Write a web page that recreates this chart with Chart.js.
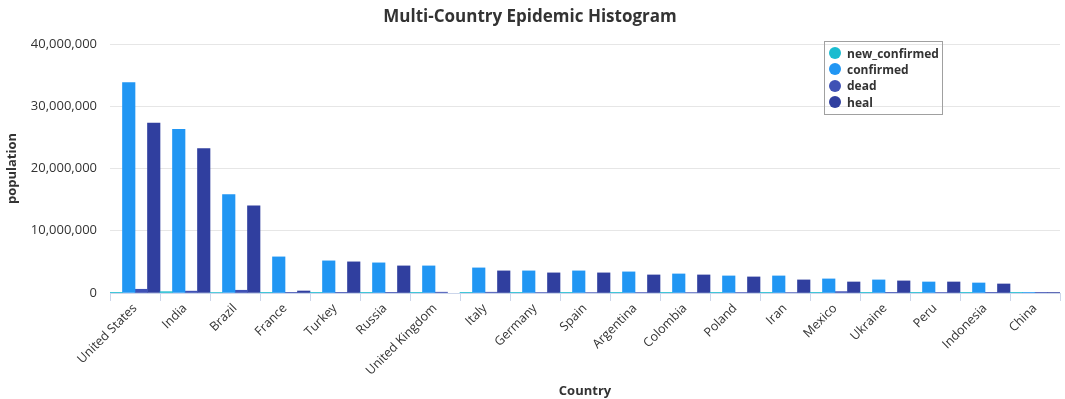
<!DOCTYPE html>
<html>
<head>
<meta charset="utf-8">
<script src="https://cdn.jsdelivr.net/npm/chart.js@4/dist/chart.umd.min.js"></script>
<style>
  html, body { margin: 0; padding: 0; background: #ffffff; }
  #wrap { position: relative; width: 1065px; height: 399px; }
  #legend {
    position: absolute; left: 824px; top: 41px; width: 113px;
    border: 1.5px solid #a0a0a0; padding: 3px 0 4px 4px; box-sizing: content-box;
    font-family: "Open Sans", sans-serif; font-weight: bold; font-size: 12px; color: #333;
  }
  #legend ul { list-style: none; margin: 0; padding: 0; }
  #legend li { display: flex; align-items: center; height: 16.3px; }
  #legend .dot { width: 12px; height: 12px; border-radius: 50%; margin-right: 6px; flex: none; }
</style>
</head>
<body>
<div id="wrap">
  <canvas id="chart" width="1065" height="399"></canvas>
  <div id="legend"></div>
</div>
<script>
// Countries on the category axis
const countries = ["United States", "India", "Brazil", "France", "Turkey", "Russia",
  "United Kingdom", "Italy", "Germany", "Spain", "Argentina", "Colombia", "Poland",
  "Iran", "Mexico", "Ukraine", "Peru", "Indonesia", "China"];

// Case counts per country
const newConfirmed = [22000, 210000, 66000, 19000, 9000, 8500, 2600, 7000, 4000, 5000,
  28000, 26000, 800, 11000, 2500, 2000, 4000, 6000, 20];
const confirmed = [33800000, 26300000, 15800000, 5800000, 5160000, 4840000, 4350000,
  4030000, 3550000, 3550000, 3390000, 3060000, 2740000, 2740000, 2260000, 2100000,
  1770000, 1610000, 103000];
const dead = [600000, 300000, 440000, 108000, 46000, 112000, 128000, 125000, 88000,
  80000, 73000, 81000, 73000, 79000, 220000, 49000, 68000, 49000, 4800];
const heal = [27300000, 23200000, 14000000, 320000, 5000000, 4350000, null, 3550000,
  3230000, 3230000, 2900000, 2900000, 2580000, 2100000, 1770000, 1940000, 1770000,
  1450000, 97000];

const seriesNames = ["new_confirmed", "confirmed", "dead", "heal"];
const seriesColors = ["#1ABCD0", "#2196F3", "#3F51B5", "#303F9F"];
const seriesData = [newConfirmed, confirmed, dead, heal];

const FONT = '"Open Sans", sans-serif';
const TEXT = '#333333';

const chart = new Chart(document.getElementById('chart'), {
  type: 'bar',
  data: {
    labels: countries,
    datasets: seriesNames.map((name, i) => ({
      label: name,
      data: seriesData[i],
      backgroundColor: seriesColors[i],
      borderWidth: 0,
      categoryPercentage: 1,
      barPercentage: 1
    }))
  },
  options: {
    responsive: false,
    animation: false,
    layout: { padding: { left: 0, right: 5, top: 0, bottom: 0 } },
    plugins: {
      legend: { display: false },
      tooltip: { enabled: false },
      title: {
        display: true,
        text: 'Multi-Country Epidemic Histogram',
        color: TEXT,
        font: { family: FONT, size: 17, weight: 'bold' },
        padding: { top: 7, bottom: 16.6 }
      }
    },
    scales: {
      x: {
        offset: true,
        grid: {
          offset: true,
          drawOnChartArea: false,
          drawTicks: true,
          tickLength: 8,
          color: '#ccd6eb'
        },
        border: { color: '#ccd6eb' },
        ticks: {
          autoSkip: false,
          maxRotation: 45,
          minRotation: 45,
          padding: 0,
          color: TEXT,
          font: { family: FONT, size: 12.5 }
        },
        title: {
          display: true,
          text: 'Country',
          color: TEXT,
          font: { family: FONT, size: 13, weight: 'bold' },
          padding: { top: 0, bottom: 0 }
        },
        afterFit: (s) => { s.height = 106; }
      },
      y: {
        min: 0,
        max: 40000000,
        ticks: {
          stepSize: 10000000,
          padding: 13,
          color: TEXT,
          font: { family: FONT, size: 13 },
          callback: (v) => v.toLocaleString('en-US')
        },
        grid: { color: '#e6e6e6', drawTicks: false },
        border: { display: false },
        title: {
          display: true,
          text: 'population',
          color: TEXT,
          font: { family: FONT, size: 13, weight: 'bold' },
          padding: { top: 4, bottom: 0 }
        },
        afterFit: (s) => { s.width = 110; }
      }
    }
  }
});

// Legend list built from the chart's datasets
const ul = document.createElement('ul');
chart.data.datasets.forEach((ds) => {
  const li = document.createElement('li');
  const dot = document.createElement('span');
  dot.className = 'dot';
  dot.style.background = ds.backgroundColor;
  const txt = document.createElement('span');
  txt.textContent = ds.label;
  li.appendChild(dot);
  li.appendChild(txt);
  ul.appendChild(li);
});
document.getElementById('legend').appendChild(ul);
</script>
</body>
</html>
